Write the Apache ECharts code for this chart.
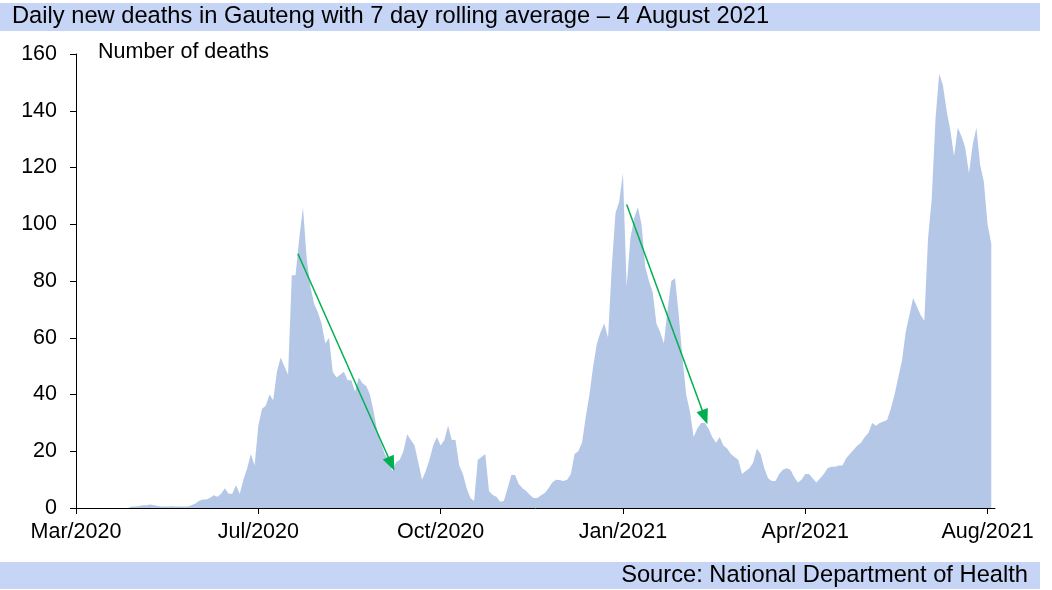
<!DOCTYPE html>
<html>
<head>
<meta charset="utf-8">
<script src="https://cdn.jsdelivr.net/npm/echarts@6/dist/echarts.min.js"></script>
<style>
  html, body { margin: 0; padding: 0; background: #fff; }
  #chart { width: 1052px; height: 590px; }
</style>
</head>
<body>
<div id="chart"></div>
<script>
// day 0 of the x axis; one value every 2 days
var startDate = '2020-03-30';
var stepDays = 2;
var deaths = [
  0, 0, 0, 0, 0, 0, 0, 0, 0, 0,
  0, 0, 0, 0, 0, 0.5, 0.5, 0.7, 1, 1,
  1.2, 1, 0.7, 0.5, 0.5, 0.5, 0.6, 0.5, 0.5, 0.5,
  0.5, 1, 1.5, 2.5, 3, 3, 3.5, 4.5, 4, 5,
  7, 5, 5, 8, 5, 10, 14, 19, 15, 29,
  35, 36, 40, 38, 48, 53, 50, 47, 82, 82,
  95, 106, 88, 78, 72, 69, 65, 58, 60, 48,
  46, 47, 48, 45, 45, 41, 46, 44, 43, 40,
  34, 27, 23, 19, 17, 13, 16, 17, 20, 26,
  24, 22, 16, 10, 13, 17, 22, 25, 22, 24,
  29, 24, 24, 15, 12, 7, 3.5, 2.5, 17, 18,
  19, 6, 4.6, 4, 2.2, 2.5, 7, 11.6, 11.6, 8.5,
  7, 6, 4.6, 3.5, 3.5, 4.5, 5.3, 7, 9, 10,
  9.9, 9.5, 10, 12, 19, 20, 23, 32, 40, 50,
  58, 62, 65, 60, 85, 104, 108, 118, 78, 95,
  102, 106, 100, 85, 80, 76, 65, 62, 58, 70,
  80, 81, 68, 53, 40, 34, 25, 28, 30, 30,
  28, 25, 23, 25, 22, 21, 19, 18, 17, 12,
  13, 14, 16, 21, 19, 14, 10.5, 9.5, 9.5, 12,
  13.5, 14, 13.5, 11, 9, 10, 12, 12, 10.5, 9,
  10.5, 12, 14, 14.5, 14.5, 15, 15, 17.5, 19, 20.5,
  22, 23, 25, 26.5, 30, 29, 30, 30.5, 31, 35,
  40, 46, 52, 62, 68, 74, 71, 68, 66, 95,
  109, 137, 153, 149, 140, 133, 124, 134, 131, 127,
  118, 128, 134, 121, 115, 100, 93
];

// x axis ticks (days after startDate) and the drawn trend arrows
var tickDays = [0, 98, 196, 294, 392, 490];
var arrowFrom = [[119.3, 89.6], [296, 107], [465.8, 153.8]];
var arrowTo = [[169.5, 15.5], [338, 32], [494.5, 98]];

var monthNames = ['Jan', 'Feb', 'Mar', 'Apr', 'May', 'Jun', 'Jul', 'Aug', 'Sep', 'Oct', 'Nov', 'Dec'];
var t0 = new Date(startDate + 'T00:00:00Z').getTime();
function dayLabel(d) {
    var dt = new Date(t0 + d * 86400000);
    return monthNames[dt.getUTCMonth()] + '/' + dt.getUTCFullYear();
}

var seriesData = deaths.map(function (v, i) { return [i * stepDays, v]; });
var arrowLines = arrowFrom.map(function (p, i) {
    return [{ coord: p }, { coord: arrowTo[i] }];
});

var font = "'Liberation Sans', Arial, sans-serif";
var chartobj = echarts.init(document.getElementById('chart'), null, { renderer: 'canvas' });
var option = {
    animation: false,
    backgroundColor: '#fff',
    graphic: [
        { type: 'rect', shape: { x: 0, y: 3, width: 1040, height: 28 }, style: { fill: '#c6d5f5' }, z: -1 },
        { type: 'rect', shape: { x: 0, y: 562, width: 1040, height: 27 }, style: { fill: '#c6d5f5' }, z: -1 },
        {
            type: 'text', left: 12, top: 4,
            style: { text: 'Daily new deaths in Gauteng with 7 day rolling average – 4 August 2021', font: '23.7px ' + font, fill: '#000' }
        },
        {
            type: 'text', right: 24, top: 563,
            style: { text: 'Source: National Department of Health', font: '23.7px ' + font, fill: '#000' }
        },
        {
            type: 'text', left: 98, top: 41,
            style: { text: 'Number of deaths', font: '21.5px ' + font, fill: '#000' }
        }
    ],
    grid: { left: 76, right: 57, top: 54, bottom: 82 },
    xAxis: {
        type: 'value',
        min: 0,
        max: 494,
        splitLine: { show: false },
        axisLine: { show: true, lineStyle: { color: '#000', width: 1 } },
        axisTick: { show: true, length: 6, lineStyle: { color: '#000' }, customValues: tickDays },
        axisLabel: {
            customValues: tickDays,
            formatter: function (v) { return dayLabel(v); },
            color: '#000', fontSize: 21.5, fontFamily: font, margin: 13
        }
    },
    yAxis: {
        type: 'value',
        min: 0,
        max: 160,
        interval: 20,
        splitLine: { show: false },
        axisLine: { show: true, lineStyle: { color: '#000', width: 1 } },
        axisTick: { show: true, length: 6, lineStyle: { color: '#000' } },
        axisLabel: { color: '#000', fontSize: 21.5, fontFamily: font, margin: 19 }
    },
    series: [
        {
            name: 'Daily deaths',
            type: 'line',
            data: seriesData,
            showSymbol: false,
            clip: false,
            lineStyle: { width: 0 },
            areaStyle: { color: '#b4c7e7', opacity: 1 },
            markLine: {
                silent: true,
                animation: false,
                symbol: ['none', 'triangle'],
                symbolSize: [12, 15],
                label: { show: false },
                lineStyle: { color: '#00b050', width: 1.5, type: 'solid' },
                data: arrowLines
            }
        }
    ]
};
chartobj.setOption(option);
</script>
</body>
</html>
